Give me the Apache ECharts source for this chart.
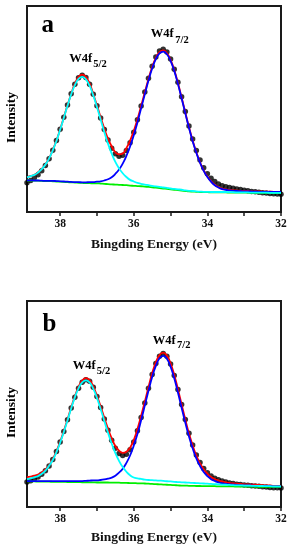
<!DOCTYPE html>
<html>
<head>
<meta charset="utf-8">
<style>
html,body{margin:0;padding:0;background:#fff;}
#chart{width:292px;height:550px;}
</style>
<script src="https://cdn.jsdelivr.net/npm/echarts@6.0.0/dist/echarts.min.js"></script>
</head>
<body>
<div id="chart"></div>
<script>
// Binding energy (eV), shared by every series
const energies = [38.9,38.8,38.7,38.6,38.5,38.4,38.3,38.2,38.1,38.0,
  37.9,37.8,37.7,37.6,37.5,37.4,37.3,37.2,37.1,37.0,
  36.9,36.8,36.7,36.6,36.5,36.4,36.3,36.2,36.1,36.0,
  35.9,35.8,35.7,35.6,35.5,35.4,35.3,35.2,35.1,35.0,
  34.9,34.8,34.7,34.6,34.5,34.4,34.3,34.2,34.1,34.0,
  33.9,33.8,33.7,33.6,33.5,33.4,33.3,33.2,33.1,33.0,
  32.9,32.8,32.7,32.6,32.5,32.4,32.3,32.2,32.1,32.0];

const xTicks = [32,33,34,35,36,37,38];
const xTickLabels = [32,34,36,38];

// Panel a
const aData = [14.2,15.3,16.6,18.1,20.0,22.6,25.9,30.0,34.7,40.2,
  46.0,51.9,57.4,62.0,65.2,66.4,65.3,62.0,57.2,51.6,
  45.6,40.0,34.9,31.0,28.3,27.1,27.5,29.8,33.6,38.7,
  44.8,51.5,58.3,64.9,70.8,75.3,78.2,79.0,77.7,74.3,
  69.3,63.0,56.0,48.8,41.8,35.4,29.9,25.2,21.5,18.6,
  16.4,14.8,13.6,12.8,12.3,11.9,11.5,11.2,10.9,10.6,
  10.3,10.0,9.8,9.6,9.4,9.2,9.0,8.9,8.7,8.6];
const aEnvelope = [16.9,17.5,18.1,19.3,20.9,23.1,26.1,30.1,34.7,40.1,
  45.9,51.8,57.3,62.3,65.5,66.7,65.5,62.4,57.2,51.8,
  46.0,40.5,35.6,31.9,29.0,28.0,28.4,31.0,34.6,39.3,
  45.0,51.5,58.1,64.6,70.4,74.8,77.6,78.4,77.1,73.8,
  68.9,62.6,55.6,48.3,41.2,34.7,29.0,24.1,20.2,17.2,
  14.9,13.2,12.1,11.3,11.0,10.7,10.5,10.4,10.3,10.2,
  10.2,10.0,10.0,10.0,9.9,9.9,9.9,9.8,9.8,9.8];
const aBackground = [15.3,15.3,15.2,15.2,15.1,15.0,15.0,14.9,14.8,14.7,
  14.6,14.5,14.4,14.3,14.2,14.1,14.0,14.0,13.9,13.9,
  13.8,13.7,13.5,13.4,13.3,13.2,13.1,13.0,12.8,12.7,
  12.6,12.5,12.3,12.2,12.0,11.8,11.6,11.4,11.2,11.0,
  10.8,10.6,10.4,10.2,10.0,9.9,9.8,9.7,9.6,9.6,
  9.5,9.5,9.5,9.5,9.5,9.4,9.4,9.4,9.4,9.4,
  9.4,9.3,9.3,9.3,9.3,9.3,9.2,9.2,9.2,9.2];
const aW4f72 = [15.4,15.4,15.3,15.3,15.2,15.1,15.1,15.1,15.0,14.9,
  14.8,14.7,14.6,14.5,14.5,14.4,14.4,14.5,14.5,14.7,
  14.9,15.3,15.9,16.9,18.5,20.6,23.5,27.2,31.8,37.2,
  43.5,50.3,57.1,63.8,69.7,74.2,77.0,77.9,76.6,73.4,
  68.5,62.2,55.2,48.0,40.9,34.4,28.8,23.9,20.0,17.0,
  14.7,13.0,11.9,11.1,10.8,10.5,10.3,10.2,10.1,10.0,
  10.0,9.9,9.9,9.8,9.8,9.8,9.7,9.7,9.7,9.7];
const aW4f52 = [16.8,17.4,18.0,19.2,20.8,23.0,26.0,29.9,34.5,39.9,
  45.7,51.6,57.1,61.6,64.6,65.6,64.4,61.3,56.6,51.0,
  44.9,38.9,33.2,28.4,24.3,21.2,18.8,17.0,15.6,14.8,
  14.1,13.7,13.3,13.0,12.7,12.4,12.2,11.9,11.7,11.4,
  11.2,11.0,10.8,10.5,10.3,10.2,10.0,9.9,9.8,9.8,
  9.7,9.7,9.7,9.7,9.7,9.6,9.6,9.5,9.5,9.5,
  9.5,9.4,9.4,9.4,9.4,9.4,9.3,9.3,9.3,9.3];

// Panel b
const bData = [12.1,12.8,13.6,14.6,15.9,17.6,19.9,23.0,26.9,31.5,
  36.7,42.3,48.0,53.3,57.7,60.6,61.8,61.0,58.1,53.6,
  48.3,42.7,37.3,32.4,28.5,26.0,25.0,25.6,27.8,31.6,
  37.0,43.5,50.5,57.6,64.3,69.6,73.2,74.5,73.2,69.4,
  63.8,57.0,49.7,42.5,35.8,30.1,25.3,21.6,18.7,16.6,
  15.0,14.0,13.2,12.6,12.1,11.7,11.4,11.1,10.9,10.7,
  10.5,10.3,10.2,10.1,9.8,9.7,9.5,9.4,9.3,9.2];
const bEnvelope = [14.5,14.8,15.2,15.8,16.8,18.3,20.3,23.2,27.0,31.6,
  36.8,42.5,48.3,53.7,58.3,61.4,62.6,61.6,58.5,54.0,
  48.8,43.3,38.0,33.3,29.6,27.3,26.3,26.8,28.8,32.5,
  37.8,44.2,51.1,58.2,64.9,70.2,73.8,74.9,73.5,69.8,
  64.1,57.2,49.8,42.5,35.7,29.9,25.0,21.2,18.3,16.2,
  14.6,13.6,12.9,12.4,12.0,11.7,11.5,11.3,11.2,11.0,
  11.0,10.8,10.8,10.7,10.6,10.5,10.5,10.3,10.3,10.3];
const bBackground = [12.4,12.4,12.4,12.3,12.3,12.3,12.3,12.2,12.2,12.2,
  12.2,12.1,12.1,12.1,12.1,12.0,12.0,12.0,12.0,11.9,
  11.9,11.9,11.9,11.8,11.8,11.8,11.7,11.7,11.6,11.6,
  11.5,11.5,11.4,11.3,11.2,11.1,11.0,10.9,10.8,10.7,
  10.6,10.5,10.4,10.4,10.3,10.3,10.2,10.2,10.1,10.1,
  10.1,10.1,10.0,10.0,10.0,10.0,10.0,9.9,9.9,9.9,
  9.9,9.9,9.8,9.8,9.8,9.8,9.8,9.7,9.7,9.7];
const bW4f72 = [12.6,12.6,12.6,12.6,12.6,12.6,12.6,12.6,12.6,12.6,
  12.6,12.6,12.6,12.6,12.6,12.6,12.7,12.8,12.9,12.9,
  13.1,13.4,13.8,14.3,15.2,16.7,18.6,21.4,25.0,29.8,
  35.4,42.1,49.2,56.4,63.1,68.5,72.2,73.4,72.0,68.1,
  62.5,55.6,48.2,41.0,34.2,28.5,23.6,19.9,17.0,15.0,
  13.5,12.6,11.9,11.5,11.2,11.0,10.9,10.7,10.6,10.5,
  10.5,10.4,10.3,10.3,10.2,10.2,10.2,10.0,10.0,10.0];
const bW4f52 = [13.5,13.9,14.4,15.0,16.1,17.7,20.0,22.8,26.6,31.2,
  36.4,42.0,47.8,53.2,57.6,60.5,61.5,60.5,57.5,53.0,
  47.6,41.8,36.1,30.8,26.2,22.4,19.4,17.1,15.4,14.3,
  13.9,13.6,13.3,13.1,13.0,12.9,12.8,12.7,12.5,12.4,
  12.2,12.1,12.0,11.9,11.8,11.7,11.6,11.5,11.4,11.3,
  11.2,11.1,11.0,10.9,10.8,10.7,10.6,10.5,10.5,10.4,
  10.4,10.3,10.3,10.2,10.2,10.1,10.1,10.0,10.0,10.0];

const FONT = "'Liberation Serif','Times New Roman',serif";
const pair = arr => energies.map((e, i) => [e, arr[i]]);

function xAxisFor(gridIndex, nameGap) {
  return {
    gridIndex: gridIndex, type: 'value', inverse: true, min: 32, max: 38.9,
    name: 'Bingding Energy (eV)', nameLocation: 'middle', nameGap: nameGap,
    nameTextStyle: { fontFamily: FONT, fontWeight: 'bold', fontSize: 13.5, color: '#111' },
    axisLine: { show: true, onZero: false, lineStyle: { color: '#1a1a1a', width: 2 } },
    axisTick: { show: true, inside: false, length: 4, customValues: xTicks, lineStyle: { color: '#1a1a1a', width: 1.5 } },
    axisLabel: { show: true, margin: 6, customValues: xTickLabels, fontFamily: FONT, fontWeight: 'bold', fontSize: 11.5, color: '#111' },
    splitLine: { show: false }
  };
}
function yAxisFor(gridIndex) {
  return {
    gridIndex: gridIndex, type: 'value', min: 0, max: 100,
    axisLine: { show: false }, axisTick: { show: false }, axisLabel: { show: false }, splitLine: { show: false }
  };
}
function seriesFor(idx, data, env, bg, c72, c52) {
  const line = (arr, color, name) => ({
    type: 'line', name: name, xAxisIndex: idx, yAxisIndex: idx, data: pair(arr),
    showSymbol: false, smooth: true, lineStyle: { color: color, width: 1.8 }, itemStyle: { color: color },
    animation: false
  });
  return [
    { type: 'scatter', name: 'data', xAxisIndex: idx, yAxisIndex: idx, data: pair(data),
      symbol: 'circle', symbolSize: 5.5, itemStyle: { color: '#000' }, animation: false },
    line(env, '#ff0000', 'envelope'),
    line(bg, '#00ee00', 'background'),
    line(c72, '#0000ff', 'W4f7/2'),
    line(c52, '#00ffff', 'W4f5/2')
  ];
}
function txt(x, y, text, size, extra) {
  return Object.assign({ type: 'text', x: x, y: y, silent: true,
    style: { text: text, fontFamily: FONT, fontWeight: 'bold', fontSize: size, fill: '#000', align: 'left', verticalAlign: 'middle' } }, extra || {});
}
function vtxt(x, y, text) {
  return { type: 'text', x: x, y: y, rotation: Math.PI / 2, silent: true,
    style: { text: text, fontFamily: FONT, fontWeight: 'bold', fontSize: 13.5, fill: '#000', align: 'center', verticalAlign: 'middle' } };
}

const chart = echarts.init(document.getElementById('chart'), null, { renderer: 'canvas' });
chart.setOption({
  animation: false,
  backgroundColor: '#fff',
  grid: [
    { left: 27, right: 11, top: 6, height: 206, show: true, borderColor: '#1a1a1a', borderWidth: 2, outerBoundsMode: 'none', containLabel: false },
    { left: 27, right: 11, top: 301, height: 206, show: true, borderColor: '#1a1a1a', borderWidth: 2, outerBoundsMode: 'none', containLabel: false }
  ],
  xAxis: [xAxisFor(0, 26), xAxisFor(1, 24)],
  yAxis: [yAxisFor(0), yAxisFor(1)],
  series: [].concat(
    seriesFor(0, aData, aEnvelope, aBackground, aW4f72, aW4f52),
    seriesFor(1, bData, bEnvelope, bBackground, bW4f72, bW4f52)
  ),
  graphic: [
    txt(41.5, 25.1, 'a', 25),
    txt(42.5, 324.5, 'b', 25),
    txt(69.3, 59.2, 'W4f', 12.5), txt(93.3, 64.3, '5/2', 10.5),
    txt(150.7, 34.2, 'W4f', 12.5), txt(175.3, 39.9, '7/2', 10.5),
    txt(72.7, 365.9, 'W4f', 12.5), txt(96.8, 371.6, '5/2', 10.5),
    txt(152.7, 340.9, 'W4f', 12.5), txt(177, 345.6, '7/2', 10.5),
    vtxt(12, 117.5, 'Intensity'),
    vtxt(12, 412.5, 'Intensity')
  ]
});
</script>
</body>
</html>
